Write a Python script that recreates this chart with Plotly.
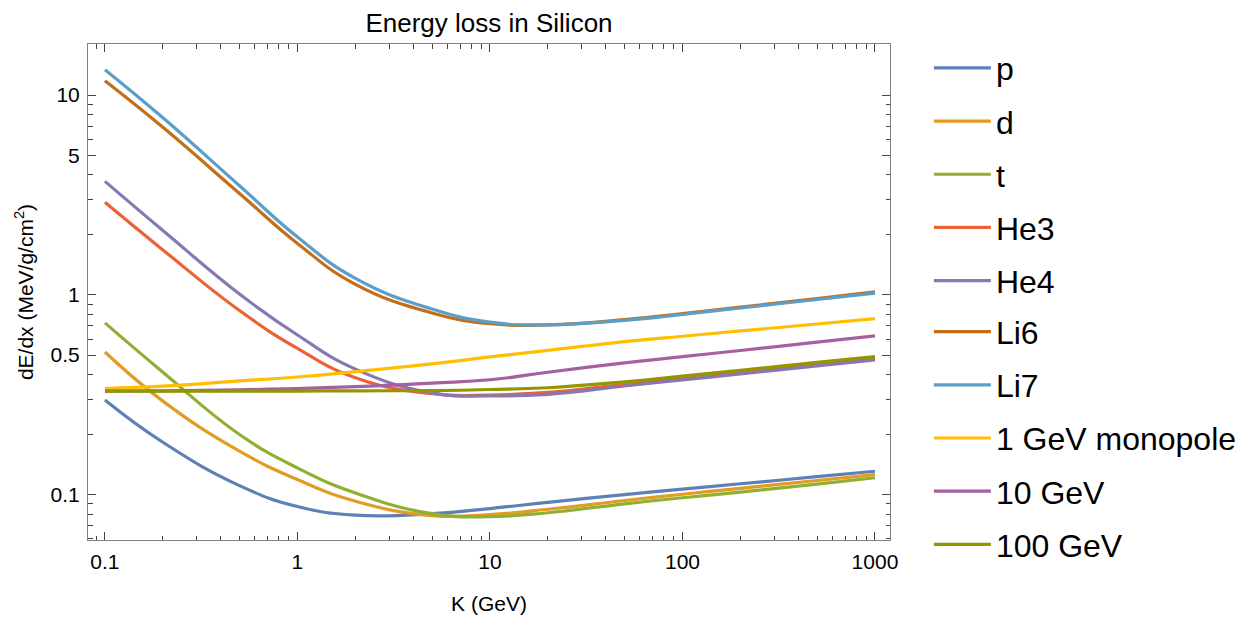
import plotly.graph_objects as go

# Kinetic energy K (GeV) sample points
K = [0.1, 0.2, 0.5, 1, 2, 5, 10, 20, 50, 100, 200, 500, 1000]

# dE/dx (MeV/g/cm^2)
p_vals = [0.298, 0.183, 0.111, 0.0872, 0.0790, 0.0803, 0.0852, 0.0915, 0.1000, 0.1066, 0.1134, 0.1230, 0.131]
d_vals = [0.518, 0.294, 0.165, 0.119, 0.0927, 0.0786, 0.0795, 0.0845, 0.0935, 0.1005, 0.1076, 0.1177, 0.126]
t_vals = [0.724, 0.410, 0.200, 0.136, 0.102, 0.0803, 0.0776, 0.0812, 0.0900, 0.0965, 0.1030, 0.1130, 0.1215]
he3_vals = [2.91, 1.68, 0.835, 0.540, 0.385, 0.320, 0.315, 0.325, 0.357, 0.383, 0.410, 0.450, 0.482]
he4_vals = [3.70, 2.10, 1.01, 0.630, 0.425, 0.323, 0.312, 0.318, 0.350, 0.3755, 0.402, 0.441, 0.472]
li6_vals = [11.8, 6.90, 3.22, 1.81, 1.13, 0.812, 0.717, 0.708, 0.752, 0.806, 0.869, 0.958, 1.035]
li7_vals = [13.4, 7.70, 3.52, 1.95, 1.21, 0.850, 0.730, 0.708, 0.745, 0.798, 0.860, 0.948, 1.020]
mono1_vals = [0.340, 0.349, 0.371, 0.388, 0.413, 0.452, 0.489, 0.528, 0.584, 0.621, 0.660, 0.715, 0.761]
mono10_vals = [0.330, 0.331, 0.335, 0.340, 0.347, 0.362, 0.376, 0.410, 0.457, 0.491, 0.527, 0.580, 0.623]
mono100_vals = [0.330, 0.330, 0.330, 0.330, 0.331, 0.332, 0.336, 0.343, 0.367, 0.392, 0.419, 0.459, 0.491]

names = ["p", "d", "t", "He3", "He4", "Li6", "Li7", "1 GeV monopole", "10 GeV", "100 GeV"]
series = [p_vals, d_vals, t_vals, he3_vals, he4_vals, li6_vals, li7_vals, mono1_vals, mono10_vals, mono100_vals]
colors = ["#5E81B5", "#E19C24", "#8FB032", "#EB6235", "#8778B3", "#C56E1A",
          "#5D9EC7", "#FFBF00", "#A5609D", "#929600"]

x_major = [0.1, 1, 10, 100, 1000]
x_major_text = ["0.1", "1", "10", "100", "1000"]
x_minor = [m * 10.0 ** e for e in range(-2, 4) for m in range(2, 10)]
y_major = [0.1, 0.5, 1, 5, 10]
y_major_text = ["0.1", "0.5", "1", "5", "10"]
y_minor = [m * 10.0 ** e for e in range(-2, 2) for m in (2, 3, 4, 6, 7, 8, 9)]

FONT = "Liberation Sans, Arial, sans-serif"

fig = go.Figure()
for i, (nm, vals, col) in enumerate(zip(names, series, colors)):
    fig.add_trace(go.Scatter(
        x=K, y=vals, name=nm, mode="lines",
        line=dict(color=col, width=3.2, shape="spline", smoothing=1.3),
        legendgroup=f"g{i}",
        legend="legend" if i < 5 else "legend2",
    ))

axis_common = dict(
    type="log", showgrid=False, zeroline=False, automargin=False,
    showline=True, linecolor="#808080", linewidth=1, mirror="allticks",
    ticks="inside", ticklen=8, tickwidth=1, tickcolor="#444",
    tickfont=dict(family=FONT, size=21, color="#000"),
)

fig.update_xaxes(
    **axis_common,
    range=[-1.088, 3.078],
    tickmode="array", tickvals=x_major, ticktext=x_major_text,
    minor=dict(tickmode="array", tickvals=x_minor, ticks="inside", ticklen=4.5,
               tickwidth=1, tickcolor="#444", showgrid=False),
    title=dict(text="K (GeV)", font=dict(family=FONT, size=21, color="#000"), standoff=24),
    ticklabelstandoff=3,
)
fig.update_yaxes(
    **axis_common,
    range=[-1.227, 1.256],
    tickmode="array", tickvals=y_major, ticktext=y_major_text,
    minor=dict(tickmode="array", tickvals=y_minor, ticks="inside", ticklen=4.5,
               tickwidth=1, tickcolor="#444", showgrid=False),
    title=dict(text="dE/dx (MeV/g/cm<sup>2</sup>)", font=dict(family=FONT, size=21, color="#000"), standoff=11),
    ticklabelstandoff=3,
)

legend_common = dict(
    xanchor="left", xref="paper", yanchor="top", yref="paper",
    font=dict(family=FONT, size=32, color="#000"),
    itemwidth=57, tracegroupgap=8.6, bgcolor="rgba(0,0,0,0)",
)

fig.update_layout(
    width=1254, height=617, autosize=False,
    margin=dict(l=88, r=362, t=44, b=77),
    paper_bgcolor="white", plot_bgcolor="white",
    title=dict(text="Energy loss in Silicon", x=0.5, xref="paper",
               y=1 - 23 / 617, yref="container", yanchor="middle",
               font=dict(family=FONT, size=26, color="#000")),
    legend=dict(x=1.0485, y=1.007, **legend_common),
    legend2=dict(x=1.0485, y=0.4752, **legend_common),
    showlegend=True,
)

fig.write_html("out.html", config={"displayModeBar": False},
               post_script="document.body.style.margin='0px';")
